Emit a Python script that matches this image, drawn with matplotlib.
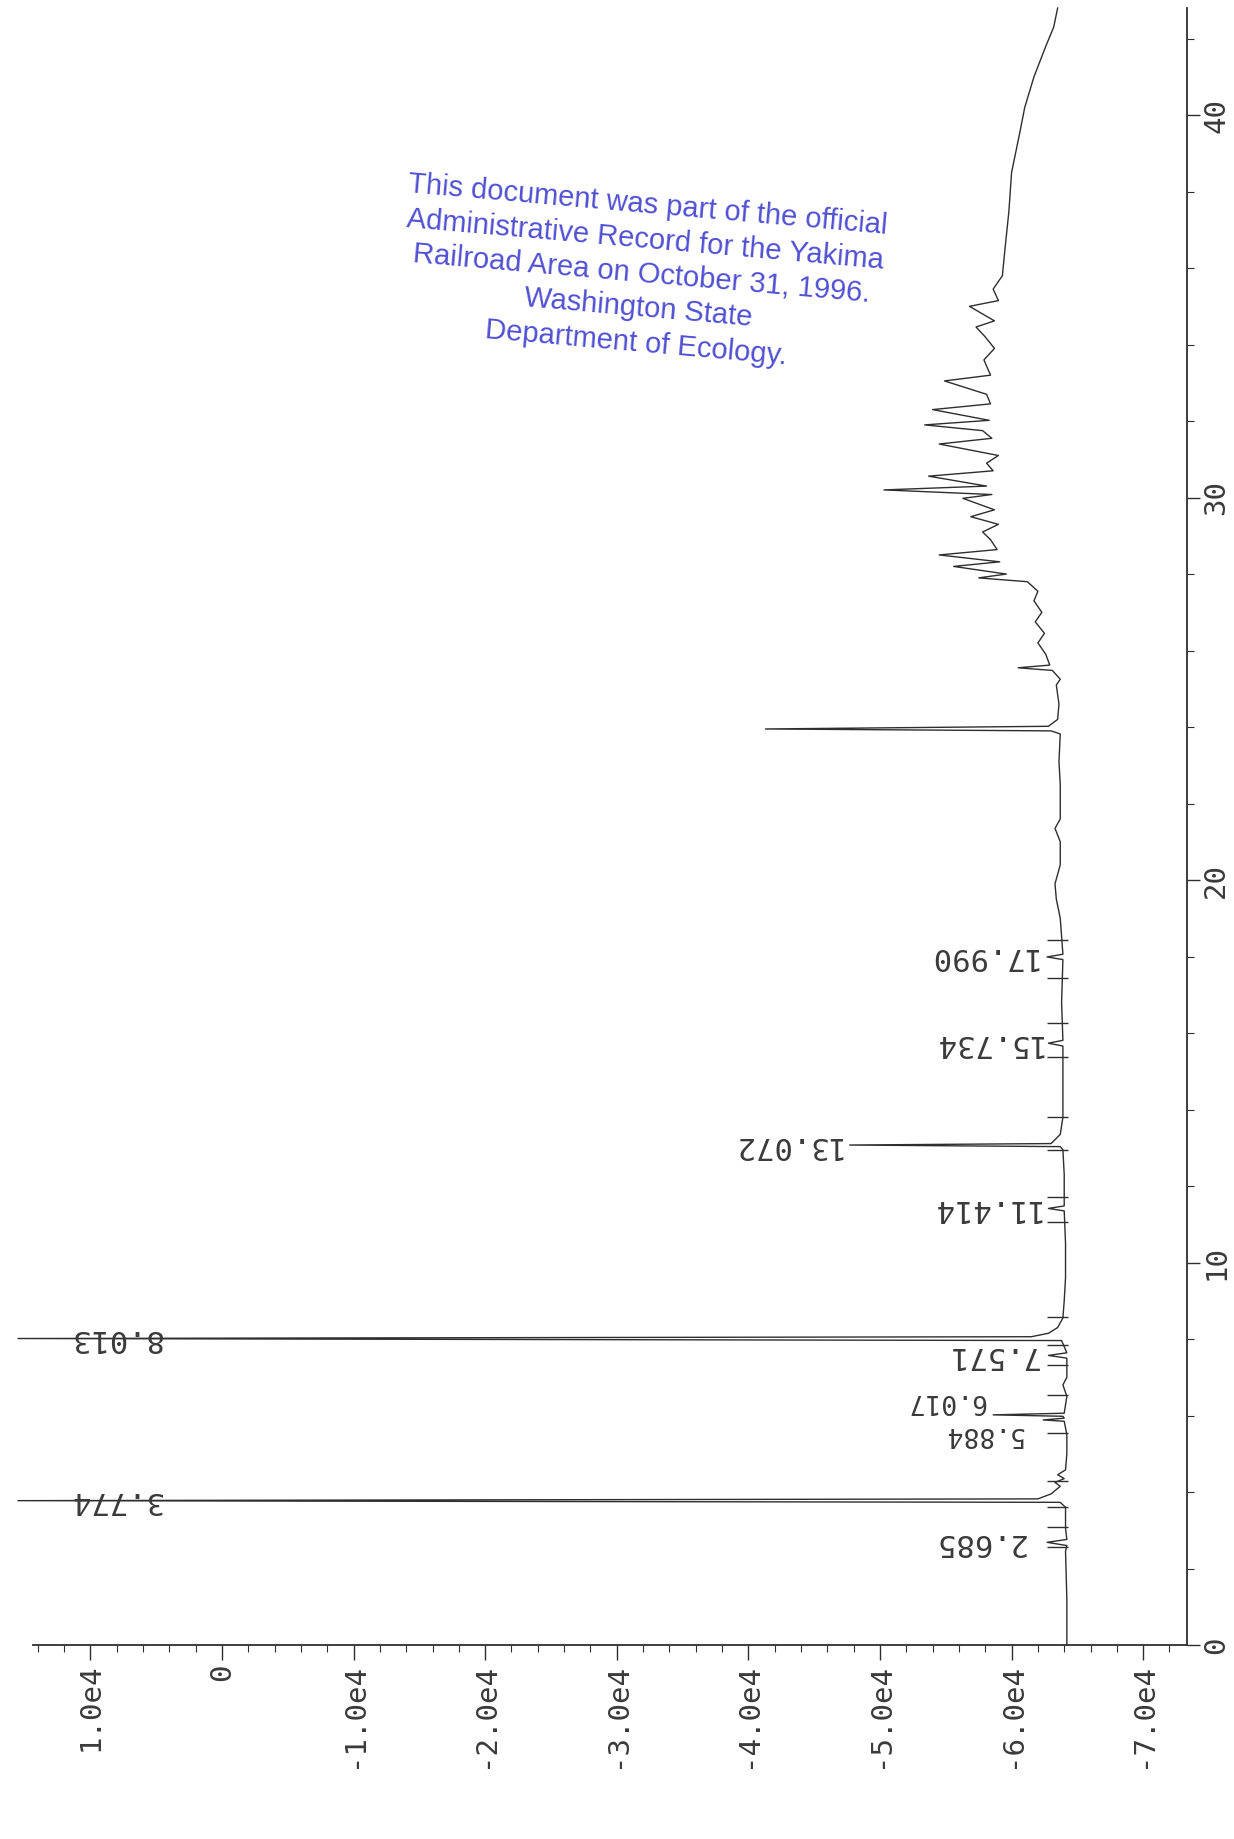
import numpy as np
import matplotlib.pyplot as plt

plt.rcParams['font.family'] = ['DejaVu Sans Mono', 'DejaVu Sans']

# chromatogram trace: retention time (min) and detector signal
trace_time = [
    0.00, 1.20, 2.45, 2.60, 2.685, 2.76, 3.05, 3.60, 3.73, 3.774, 3.82, 3.95,
    4.15, 4.25, 4.35, 4.45, 4.58, 5.00, 5.50, 5.85, 5.884, 5.93, 5.98, 6.017,
    6.06, 6.50, 6.80, 7.00, 7.50, 7.571, 7.64, 7.96, 8.013, 8.06, 8.15, 8.30,
    8.55, 9.00, 9.60, 10.50, 11.35, 11.414, 11.48, 12.30, 12.95, 13.03, 13.072,
    13.11, 13.35, 13.80, 15.00, 15.66, 15.734, 15.81, 16.80, 17.92, 17.990,
    18.06, 19.00, 19.50, 19.90, 20.40, 21.00, 21.35, 21.60, 22.50, 23.10,
    23.82, 23.90, 23.95, 24.02, 24.20, 24.60, 25.10, 25.25, 25.48, 25.55,
    25.62, 25.90, 26.20, 26.45, 26.75, 27.00, 27.30, 27.55, 27.80, 27.90,
    28.00, 28.20, 28.32, 28.50, 28.64, 28.90, 29.10, 29.30, 29.50, 29.68,
    29.98, 30.08, 30.20, 30.30, 30.56, 30.70, 30.90, 31.10, 31.40, 31.55,
    31.75, 31.90, 32.02, 32.30, 32.45, 32.70, 33.05, 33.20, 33.60, 33.90,
    34.20, 34.46, 34.62, 35.00, 35.15, 35.45, 35.80, 36.50, 37.50, 38.50,
    39.50, 40.20, 41.00, 41.80, 42.30, 42.80,
]
trace_signal = [
    -64200, -64200, -64100, -64200, -62700, -64200, -64100, -64100, -63700, 15500, -62000, -63000,
    -63700, -63300, -64000, -63500, -64100, -64200, -64200, -64000, -62400, -64000, -63900, -58600,
    -64000, -64200, -63900, -64200, -64200, -62800, -64200, -63800, 15500, -61500, -62800, -63500,
    -63900, -64000, -64100, -64100, -64000, -62800, -64000, -64000, -63900, -63700, -47700,
    -63000, -63700, -63900, -63900, -63900, -62800, -63900, -63800, -63900, -62700,
    -63900, -63700, -63400, -63300, -63700, -63700, -63300, -63700, -63700, -63600,
    -63700, -63000, -41300, -62800, -63500, -63600, -63400, -63700, -63100, -60500,
    -62900, -62600, -62000, -62500, -61800, -62300, -61700, -62000, -61200, -57500,
    -59600, -55600, -59100, -54500, -58900, -58400, -57800, -59000, -56900, -58700,
    -56300, -58500, -50300, -58100, -53700, -58600, -58100, -59000, -54500, -58500,
    -57800, -53400, -58300, -54000, -58400, -58100, -54900, -58400, -57900, -58700,
    -58000, -57300, -58700, -56800, -59000, -58600, -59300, -59500, -59800, -60000,
    -60600, -61000, -61700, -62600, -63200, -63500,
]

# integrated peaks, and where their (upside-down) labels sit
peak_times = [2.685, 3.774, 5.884, 6.017, 7.571, 8.013, 11.414, 13.072, 15.734, 17.990]
peak_labels = ['2.685', '3.774', '5.884', '6.017', '7.571', '8.013',
               '11.414', '13.072', '15.734', '17.990']
label_signal = [-61000, 4600, -60900, -58000, -62000, 4600, -62100, -47000, -62300, -61900]
label_time = [2.685, 3.774, 5.52, 6.38, 7.571, 8.013, 11.414, 13.072, 15.734, 17.990]
label_size = [22, 22, 19, 19, 22, 22, 22, 22, 22, 22]

# integration start/stop marks on the baseline
event_times = [2.56, 3.09, 3.62, 4.30, 5.54, 6.54, 7.32, 7.84, 8.58,
               11.06, 11.71, 12.94, 13.80, 15.37, 16.26, 17.44, 18.43]

signal_ticks = [10000, 0, -10000, -20000, -30000, -40000, -50000, -60000, -70000]
signal_ticklabels = ['1.0e4', '0', '-1.0e4', '-2.0e4', '-3.0e4', '-4.0e4',
                     '-5.0e4', '-6.0e4', '-7.0e4']
time_ticks = [0, 10, 20, 30, 40]
time_ticklabels = ['0', '10', '20', '30', '40']

stamp_lines = [
    'This document was part of the official',
    'Administrative Record for the Yakima',
    'Railroad Area on October 31, 1996.',
    'Washington State',
    'Department of Ecology.',
]

ink = '#2e2e2e'
label_ink = '#3a3a3a'

fig = plt.figure(figsize=(12.34, 18.39), dpi=100)
fig.patch.set_facecolor('white')
ax = fig.add_axes([33 / 1234, 194 / 1839, 1154 / 1234, 1637 / 1839])

ax.plot(trace_signal, trace_time, color=ink, lw=1.0, clip_on=False)
ax.hlines(event_times, -64300, -62700, color=ink, lw=1.0)

for t, lab, xv, fs in zip(label_time, peak_labels, label_signal, label_size):
    ax.text(xv, t, lab, rotation=180, ha='right', va='center',
            fontsize=fs, color=label_ink, clip_on=False)

ax.set_xlim(14360, -73330)
ax.set_ylim(0, 42.8)

ax.spines['left'].set_visible(False)
ax.spines['top'].set_visible(False)
ax.spines['bottom'].set_linewidth(1.3)
ax.spines['right'].set_linewidth(1.3)
ax.spines['bottom'].set_color(ink)
ax.spines['right'].set_color(ink)

ax.set_xticks(signal_ticks)
ax.set_xticklabels(signal_ticklabels)
ax.set_xticks(np.arange(-72000, 14001, 2000), minor=True)

ax.yaxis.tick_right()
ax.set_yticks(time_ticks)
ax.set_yticklabels(time_ticklabels)
ax.set_yticks(np.arange(0, 43, 2), minor=True)

ax.tick_params(axis='x', which='major', direction='out', length=11, width=1.0,
               color=ink, labelrotation=90, labelsize=21, labelcolor=label_ink, pad=2)
ax.tick_params(axis='x', which='minor', direction='out', length=5, width=0.8, color=ink)
ax.tick_params(axis='y', which='major', direction='out', length=9, width=1.0,
               color=ink, labelrotation=90, labelsize=21, labelcolor=label_ink, pad=2)
ax.tick_params(axis='y', which='minor', direction='out', length=5, width=0.8, color=ink)
for lab in ax.get_yticklabels():
    lab.set_va('center')

fig.text(0.520, 0.851, '\n'.join(stamp_lines), rotation=-5.0, rotation_mode='anchor',
         ha='center', va='center', multialignment='center', fontsize=21,
         family='Liberation Sans', color='#5050d2', linespacing=1.3)

fig.savefig('out.png', dpi=100, facecolor='white')
